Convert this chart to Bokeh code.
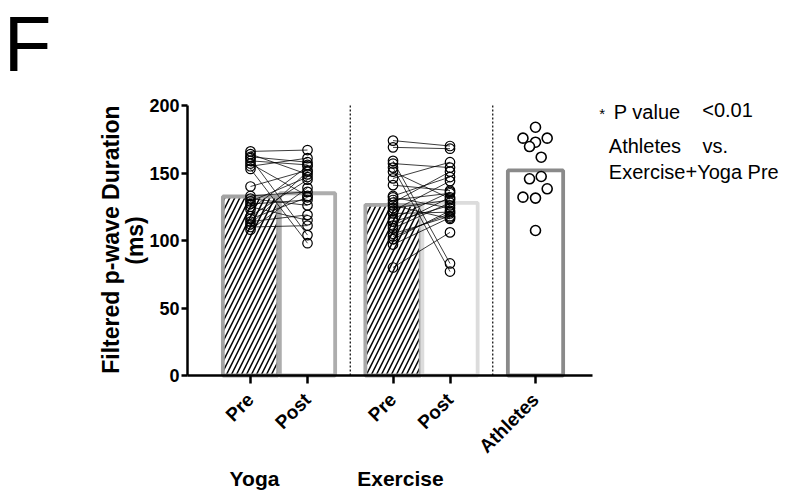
from math import pi
from bokeh.plotting import figure
from bokeh.models import Range1d, FixedTicker, Label, ColumnDataSource, LinearAxis
from bokeh.embed import file_html
from bokeh.resources import INLINE

# ---------------- data ----------------
categories = ["Pre", "Post", "Pre", "Post", "Athletes"]
groups = ["Yoga", "Exercise"]
bar_means = [132.6, 135.0, 126.4, 127.9, 151.9]

yoga_pre = [166, 164, 162, 161, 159, 157, 155, 153, 140, 133, 131, 129, 127,
            125, 123, 118, 116, 114, 112, 110, 108]
yoga_post = [167, 149, 158, 104, 156, 133, 161, 98, 152, 136, 126, 147, 130,
             115, 155, 145, 132, 119, 151, 111, 139]

exercise_pre = [174, 169, 159, 157, 154, 151, 146, 141, 133, 132, 130, 128, 126,
                124, 122, 120, 116, 114, 111, 109, 105, 103, 101, 97, 80]
exercise_post = [170, 168, 83, 154, 77, 131, 158, 137, 147, 124, 135, 151, 116,
                 130, 144, 121, 136, 126, 132, 128, 118, 120, 122, 117, 106]

athletes = [183.9, 175.8, 175.8, 172.8, 169.6, 161.7, 145.7, 147.4, 138.3,
            132.1, 131.4, 107.4]

y_ticks = [0, 50, 100, 150, 200]

# ---------------- layout constants ----------------
x_pos = [0, 1, 2.5, 3.5, 5]
athlete_jitter = [0, -0.22, 0.205, 0, -0.105, 0.1, -0.105, 0.1, 0.205, -0.22, 0, 0]
bar_line_colors = ["#a3a3a3", "#adadad", "#a8a8a8", "#dcdcdc", "#8a8a8a"]
bar_hatch = ["/", " ", "/", " ", " "]
FONT = "Liberation Sans"
X0, X1 = -1.105, 6.0      # extent of the drawn x axis
Y0, Y1 = 0, 200           # extent of the drawn y axis

p = figure(width=800, height=500, output_backend="svg", toolbar_location=None,
           x_range=Range1d(-4.386, 9.649), y_range=Range1d(-92.59, 277.78),
           min_border=0, x_axis_type=None, y_axis_type=None)
p.outline_line_color = None
p.background_fill_color = "white"
p.border_fill_color = "white"

# bars
bar_src = ColumnDataSource(dict(x=x_pos, top=bar_means, lc=bar_line_colors, hp=bar_hatch))
p.vbar(x="x", top="top", width=0.97, bottom=0, source=bar_src,
       fill_color="white", line_color="lc", line_width=3.8,
       hatch_pattern="hp", hatch_color="black", hatch_scale=10, hatch_weight=1.5)

# dotted separators
p.segment(x0=[1.75, 4.25], y0=[Y0, Y0], x1=[1.75, 4.25], y1=[Y1, Y1],
          line_color="black", line_dash="2 2", line_width=1.2)

# paired lines
yx = [[x_pos[0], x_pos[1]] for _ in yoga_pre]
yy = [[a, b] for a, b in zip(yoga_pre, yoga_post)]
ex = [[x_pos[2], x_pos[3]] for _ in exercise_pre]
ey = [[a, b] for a, b in zip(exercise_pre, exercise_post)]
p.multi_line(xs=yx + ex, ys=yy + ey, line_color="black", line_width=0.9, line_alpha=0.85)

# points
def pts(xval, vals):
    p.scatter([xval] * len(vals), vals, size=9.5, marker="circle",
              fill_alpha=0, line_color="black", line_width=1.2)

pts(x_pos[0], yoga_pre)
pts(x_pos[1], yoga_post)
pts(x_pos[2], exercise_pre)
pts(x_pos[3], exercise_post)
p.scatter([x_pos[4] + j for j in athlete_jitter], athletes, size=10, marker="circle",
          fill_color="white", line_color="black", line_width=1.6)

# axes (drawn at fixed locations inside the frame)
yax = LinearAxis(ticker=FixedTicker(ticks=y_ticks), fixed_location=X0, bounds=(Y0, Y1))
xax = LinearAxis(ticker=FixedTicker(ticks=x_pos), fixed_location=Y0, bounds=(X0, X1),
                 major_label_overrides={x: c for x, c in zip(x_pos, categories)})
for ax in (xax, yax):
    ax.axis_line_width = 2.5
    ax.major_tick_line_width = 2.5
    ax.major_tick_in = 0
    ax.minor_tick_line_color = None
    ax.major_label_text_font = FONT
    ax.major_label_text_font_style = "bold"
    ax.major_label_text_color = "black"
    ax.major_label_text_font_size = "18px"
yax.major_tick_out = 6
yax.major_label_standoff = 2
xax.major_tick_out = 8
xax.major_label_orientation = pi / 4
xax.major_label_standoff = 13
xax.major_label_text_font_size = "19px"
p.add_layout(yax, "left")
p.add_layout(xax, "below")


def label(x, y, text, size, bold=False, align="left", angle=0):
    p.add_layout(Label(x=x, y=y, text=text, angle=angle, text_align=align,
                       text_baseline="middle", text_font=FONT, text_color="black",
                       text_font_style="bold" if bold else "normal",
                       text_font_size=size))


# y label (two lines)
label(-2.456, 100.7, "Filtered p-wave Duration", "23px", bold=True, align="center", angle=pi / 2)
label(-2.018, 100.0, "(ms)", "23px", bold=True, align="center", angle=pi / 2)

# group labels
label(0.07, -76.3, groups[0], "21px", bold=True, align="center")
label(2.63, -76.3, groups[1], "21px", bold=True, align="center")

# panel letter
label(-4.33, 245.2, "F", "78px")

# annotation text
label(6.170, 194.1, "*", "15px", align="center")
label(6.374, 195.2, "P value", "20px")
label(7.925, 196.3, "<0.01", "20px")
label(6.286, 169.8, "Athletes", "20px")
label(7.93, 169.8, "vs.", "20px")
label(6.286, 151.0, "Exercise+Yoga Pre", "20px")

open("out.html", "w").write(file_html(p, INLINE))
